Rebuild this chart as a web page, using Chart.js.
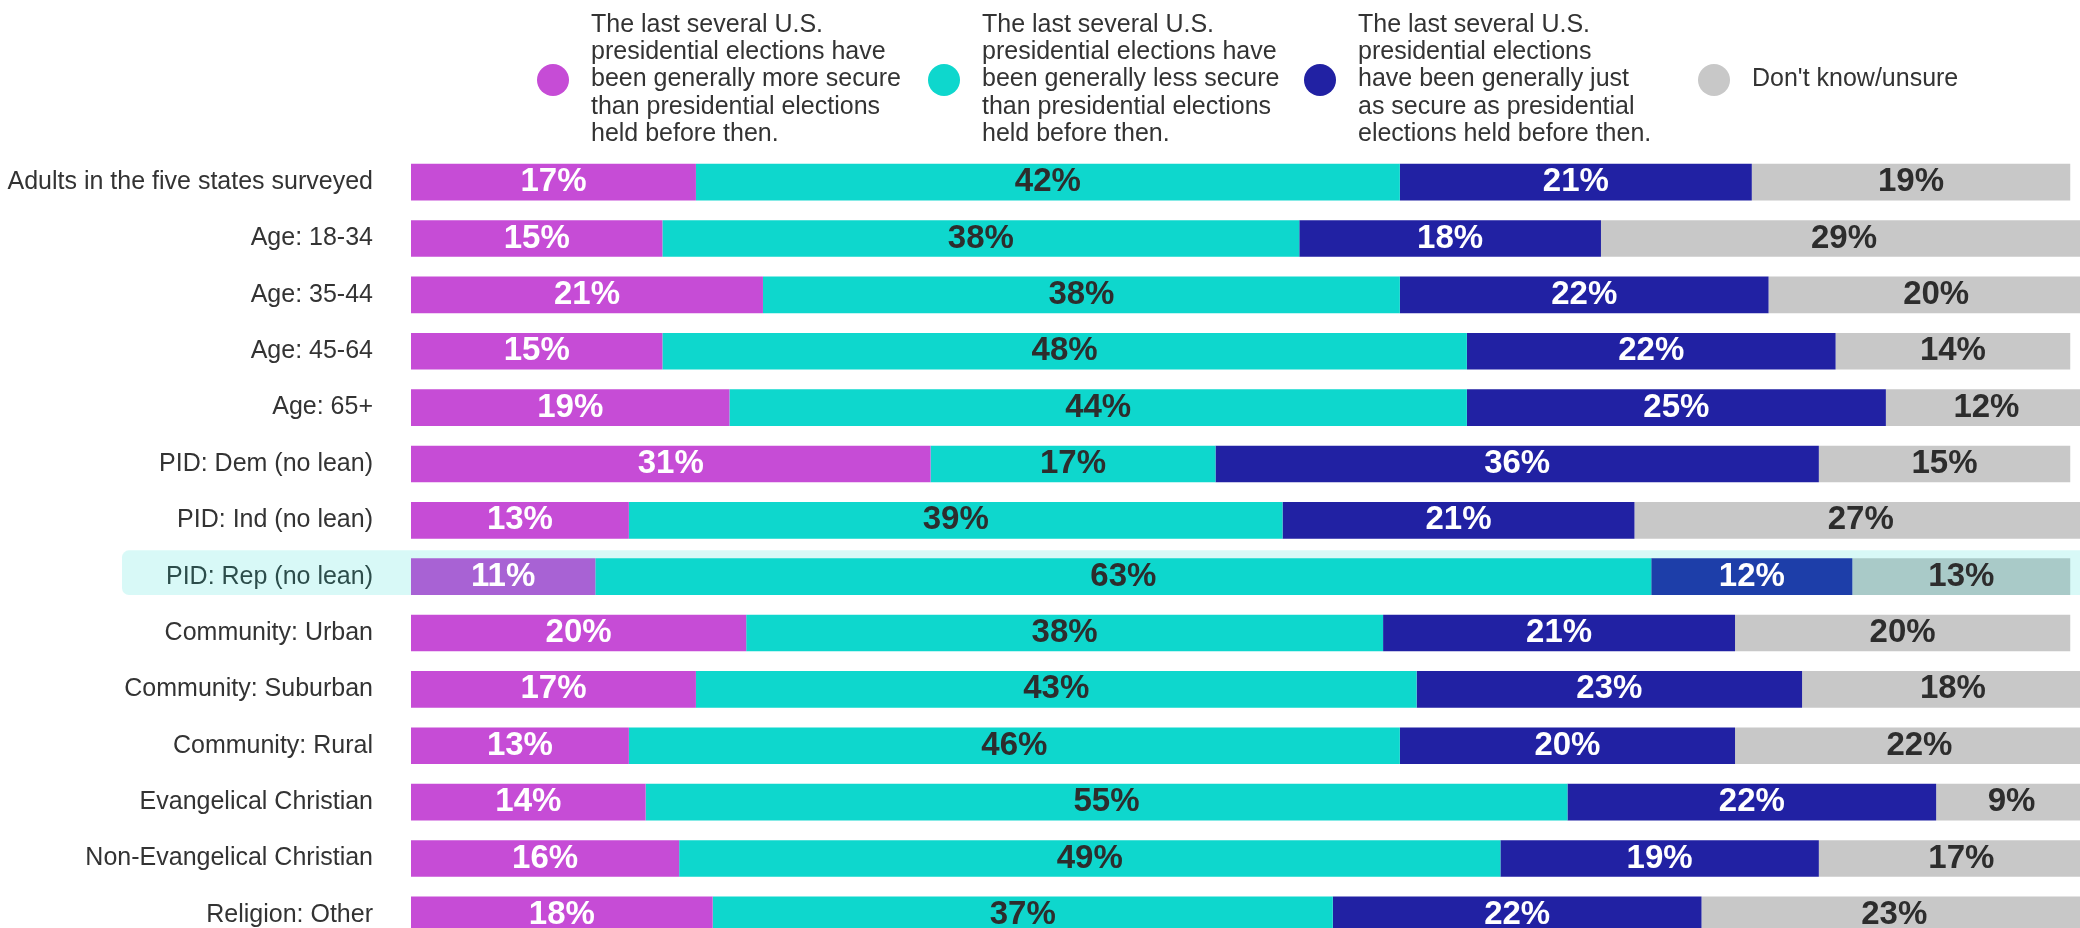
<!DOCTYPE html>
<html>
<head>
<meta charset="utf-8">
<script src="https://cdn.jsdelivr.net/npm/chart.js@4/dist/chart.umd.min.js"></script>
<style>
  html, body { margin: 0; padding: 0; background: #fff; overflow: hidden; }
  #wrap { position: relative; width: 2087px; height: 943px; }
  #legend { position: absolute; left: 0; top: 0; width: 100%; height: 160px;
            font: 25px "Liberation Sans", Arial, sans-serif; color: #333; }
  .item { position: absolute; top: 0; height: 160px; display: flex; align-items: center; }
  .dot { width: 32px; height: 32px; border-radius: 50%; margin-right: 22px; flex: none; }
  .txt { line-height: 27.3px; white-space: pre; position: relative; top: -2px; }
</style>
</head>
<body>
<div id="wrap">
  <canvas id="chart" width="2087" height="943"></canvas>
  <div id="legend"></div>
</div>
<script>
// groups, top to bottom
const categories = [
  'Adults in the five states surveyed',
  'Age: 18-34',
  'Age: 35-44',
  'Age: 45-64',
  'Age: 65+',
  'PID: Dem (no lean)',
  'PID: Ind (no lean)',
  'PID: Rep (no lean)',
  'Community: Urban',
  'Community: Suburban',
  'Community: Rural',
  'Evangelical Christian',
  'Non-Evangelical Christian',
  'Religion: Other'
];
const moreSecure   = [17, 15, 21, 15, 19, 31, 13, 11, 20, 17, 13, 14, 16, 18];
const lessSecure   = [42, 38, 38, 48, 44, 17, 39, 63, 38, 43, 46, 55, 49, 37];
const justAsSecure = [21, 18, 22, 22, 25, 36, 21, 12, 21, 23, 20, 22, 19, 22];
const dontKnow     = [19, 29, 20, 14, 12, 15, 27, 13, 20, 18, 22,  9, 17, 23];

const seriesNames = [
  'The last several U.S.\npresidential elections have\nbeen generally more secure\nthan presidential elections\nheld before then.',
  'The last several U.S.\npresidential elections have\nbeen generally less secure\nthan presidential elections\nheld before then.',
  'The last several U.S.\npresidential elections\nhave been generally just\nas secure as presidential\nelections held before then.',
  "Don't know/unsure"
];
const highlighted = 'PID: Rep (no lean)';

const colors = ['#c64cd6', '#0ed7cd', '#2121a3', '#c8c8c8'];
const textColors = ['#ffffff', '#2d2d2d', '#ffffff', '#2d2d2d'];
const legendLeft = [537, 928, 1304, 1698];
const fontFamily = '"Liberation Sans", Arial, sans-serif';

//tinted band over the highlighted row
const highlightPlugin = {
  id: 'highlightRow',
  afterDatasetsDraw(chart) {
    const idx = categories.indexOf(highlighted);
    const bar = chart.getDatasetMeta(0).data[idx];
    if (!bar) return;
    const ctx = chart.ctx;
    const top = bar.y - bar.height / 2 - 8;
    const bottom = bar.y + bar.height / 2;
    const left = chart.chartArea.left - 289;
    ctx.save();
    ctx.fillStyle = 'rgba(14, 215, 205, 0.16)';
    ctx.beginPath();
    ctx.roundRect(left, top, chart.width - left + 20, bottom - top, 7);
    ctx.fill();
    ctx.restore();
  }
};

//percent labels in the middle of each segment
const valueLabels = {
  id: 'valueLabels',
  afterDraw(chart) {
    const ctx = chart.ctx;
    ctx.save();
    ctx.font = 'bold 33px ' + fontFamily;
    ctx.textAlign = 'center';
    ctx.textBaseline = 'middle';
    chart.data.datasets.forEach((ds, i) => {
      chart.getDatasetMeta(i).data.forEach((bar, j) => {
        const cx = (bar.x + bar.base) / 2;
        ctx.fillStyle = textColors[i];
        ctx.fillText(ds.data[j] + '%', cx, bar.y);
      });
    });
    ctx.restore();
  }
};

const series = [moreSecure, lessSecure, justAsSecure, dontKnow];
const chart = new Chart(document.getElementById('chart'), {
  type: 'bar',
  data: {
    labels: categories,
    datasets: series.map((values, i) => ({
      label: seriesNames[i],
      data: values,
      backgroundColor: colors[i],
      borderWidth: 0,
      barPercentage: 0.65,
      categoryPercentage: 1.0
    }))
  },
  options: {
    indexAxis: 'y',
    responsive: false,
    animation: false,
    layout: { padding: { top: 154, left: 0, right: 0, bottom: 0 } },
    scales: {
      x: { stacked: true, display: false, min: 0, max: 100 },
      y: {
        stacked: true,
        grid: { display: false, drawTicks: false },
        border: { display: false },
        ticks: {
          color: '#333',
          padding: 38,
          font: { family: fontFamily, size: 25 }
        },
        afterFit(scale) {
          scale.width = 411;
          // tick padding would otherwise eat into the bottom row
          scale.paddingTop = 0;
          scale.paddingBottom = 0;
        }
      }
    },
    plugins: {
      legend: { display: false },
      tooltip: { enabled: false }
    }
  },
  plugins: [highlightPlugin, valueLabels]
});

//html legend, built from the datasets
const legendEl = document.getElementById('legend');
chart.data.datasets.forEach((ds, i) => {
  const item = document.createElement('div');
  item.className = 'item';
  item.style.left = legendLeft[i] + 'px';
  const dot = document.createElement('span');
  dot.className = 'dot';
  dot.style.background = ds.backgroundColor;
  const txt = document.createElement('span');
  txt.className = 'txt';
  txt.textContent = ds.label;
  item.appendChild(dot);
  item.appendChild(txt);
  legendEl.appendChild(item);
});
</script>
</body>
</html>
